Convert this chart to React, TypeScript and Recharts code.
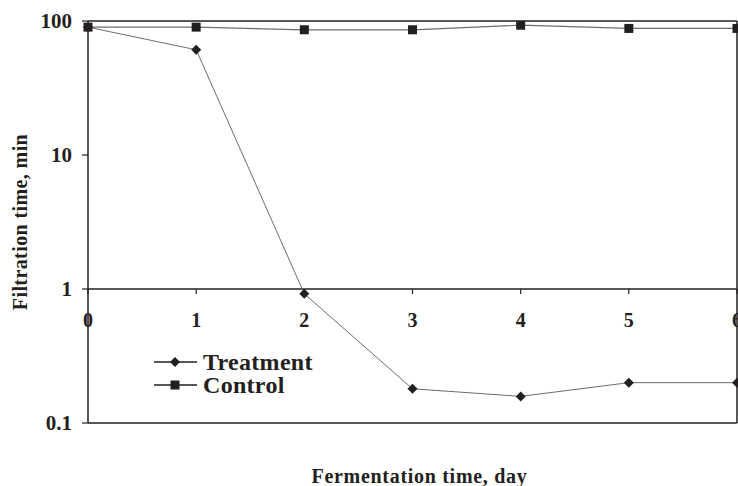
import React from 'react';
import { LineChart, Line, XAxis, YAxis, ReferenceLine, ReferenceDot, Legend } from 'recharts';

const days = [0, 1, 2, 3, 4, 5, 6];
const treatment = [90, 61, 0.92, 0.18, 0.158, 0.2, 0.2];
const control = [90, 90, 86, 86, 93, 88, 88];
const xTicks = [0, 1, 2, 3, 4, 5, 6];
const yTicks = [0.1, 1, 10, 100];

const data = days.map((day, i) => ({ day, treatment: treatment[i], control: control[i] }));

const FONT = "'Liberation Serif', 'Times New Roman', serif";
const INK = '#231f20';
const txt = { fontFamily: FONT, fontWeight: 'bold' as const };

const Diamond = ({ cx, cy, size = 5 }: any) => (
  <polygon points={`${cx},${cy - size} ${cx + size},${cy} ${cx},${cy + size} ${cx - size},${cy}`} fill={INK} />
);

const Square = ({ cx, cy, size = 4.5 }: any) => (
  <rect x={cx - size} y={cy - size} width={size * 2} height={size * 2} fill={INK} />
);

// tick mark + label hanging under the y = 1 line
const MidTick = ({ cx, cy, label }: any) => (
  <g>
    <line x1={cx} y1={cy} x2={cx} y2={cy + 5} stroke={INK} strokeWidth={1.2} />
    <text x={cx} y={cy + 38} textAnchor="middle" style={{ ...txt, fontSize: 20 }} fill={INK}>
      {label}
    </text>
  </g>
);

const XTitle = ({ viewBox }: any) => (
  <text
    x={viewBox.x + viewBox.width / 2 + 7}
    y={viewBox.y + 60}
    textAnchor="middle"
    style={{ ...txt, fontSize: 20, letterSpacing: 0.7 }}
    fill={INK}
  >
    Fermentation time, day
  </text>
);

const YTitle = ({ viewBox }: any) => {
  const x = viewBox.x + 27;
  const y = viewBox.y + viewBox.height / 2;
  return (
    <text
      x={x}
      y={y}
      transform={`rotate(-90, ${x}, ${y})`}
      textAnchor="middle"
      style={{ ...txt, fontSize: 20, letterSpacing: 0.4 }}
      fill={INK}
    >
      Filtration time, min
    </text>
  );
};

const LegendBox = () => (
  <svg width={220} height={64} style={{ display: 'block', overflow: 'visible' }}>
    {[
      { name: 'Treatment', Mark: Diamond },
      { name: 'Control', Mark: Square },
    ].map(({ name, Mark }, i) => {
      const y = 20 + i * 23;
      return (
        <g key={name}>
          <line x1={1} y1={y} x2={44} y2={y} stroke={INK} strokeWidth={1.5} />
          <Mark cx={22} cy={y} />
          <text x={50} y={y + 8} style={{ ...txt, fontSize: 24, letterSpacing: 0.3 }} fill={INK}>
            {name}
          </text>
        </g>
      );
    })}
  </svg>
);

export default function App() {
  return (
    <div style={{ position: 'absolute', left: 0, top: 0, background: '#fff' }}>
      <LineChart width={738} height={486} data={data} margin={{ top: 21, right: 1, bottom: 0, left: 0 }}>
        <XAxis
          dataKey="day"
          type="number"
          domain={[0, 6]}
          ticks={xTicks}
          tick={false}
          tickLine={false}
          axisLine={{ stroke: INK, strokeWidth: 1.5 }}
          height={63}
          label={{ content: <XTitle /> }}
        />
        <YAxis
          scale="log"
          domain={[0.1, 100]}
          ticks={yTicks}
          allowDataOverflow
          width={88}
          tickSize={6}
          tickMargin={10}
          tickFormatter={(v) => String(v)}
          tick={{ fill: INK, fontFamily: FONT, fontWeight: 'bold', fontSize: 21, style: { fontFamily: FONT } }}
          tickLine={{ stroke: INK, strokeWidth: 1.2 }}
          axisLine={{ stroke: INK, strokeWidth: 1.5 }}
          label={{ content: <YTitle /> }}
        />
        <ReferenceLine y={100} stroke={INK} strokeWidth={1.5} />
        <ReferenceLine x={6} stroke={INK} strokeWidth={1.5} />
        <ReferenceLine y={1} stroke={INK} strokeWidth={1.5} />
        {xTicks.map((t) => (
          <ReferenceDot key={t} x={t} y={1} r={0} shape={(p: any) => <MidTick {...p} label={t} />} />
        ))}
        <Legend
          layout="vertical"
          align="center"
          verticalAlign="middle"
          content={<LegendBox />}
          wrapperStyle={{ position: 'absolute', left: 153, top: 342, width: 220 }}
        />
        <Line
          type="linear"
          dataKey="control"
          name="Control"
          stroke="#6d6d6d"
          strokeWidth={1.2}
          dot={(p: any) => <Square key={p.index} cx={p.cx} cy={p.cy} />}
          isAnimationActive={false}
        />
        <Line
          type="linear"
          dataKey="treatment"
          name="Treatment"
          stroke="#6d6d6d"
          strokeWidth={1}
          dot={(p: any) => <Diamond key={p.index} cx={p.cx} cy={p.cy} />}
          isAnimationActive={false}
        />
      </LineChart>
    </div>
  );
}
